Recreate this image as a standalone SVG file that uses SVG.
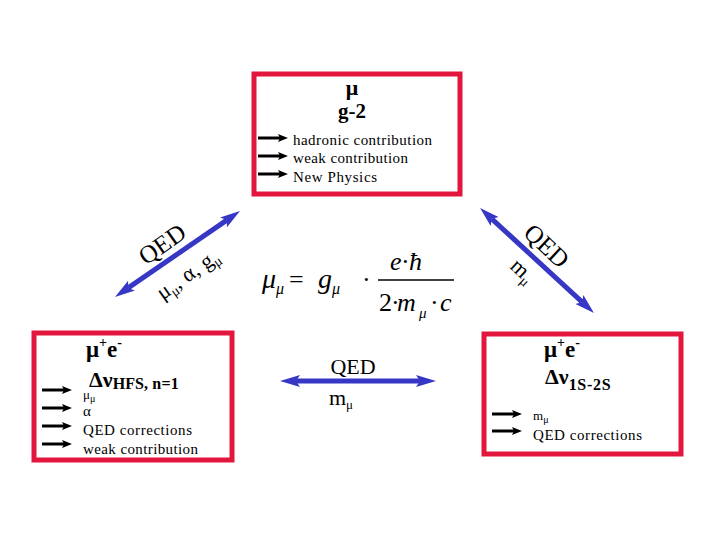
<svg xmlns="http://www.w3.org/2000/svg" width="720" height="540" viewBox="0 0 720 540">
<style>
.box{fill:#fff;stroke:#e3173e;stroke-width:5}
.t{font-family:'Liberation Serif','Times New Roman','DejaVu Serif',serif;fill:#000}
.b{font-weight:bold}
.i{font-style:italic}
.blue{stroke:#3737c6;stroke-width:5;fill:none}
.blk{stroke:#000;stroke-width:3;fill:none}
</style>
<defs>
<marker id="bh" markerUnits="userSpaceOnUse" viewBox="0 0 22 12" refX="4" refY="6" markerWidth="22" markerHeight="12" orient="auto-start-reverse">
<path d="M0,0 L20,6 L0,12 L4,6 z" fill="#3737c6"/>
</marker>
<marker id="kh" markerUnits="userSpaceOnUse" viewBox="0 0 11 8" refX="2" refY="4" markerWidth="11" markerHeight="8" orient="auto">
<path d="M0,0 L10,4 L0,8 L2,4 z" fill="#000"/>
</marker>
</defs>
<rect width="720" height="540" fill="#fff"/>

<g id="node-g2">
<rect class="box" x="254" y="74" width="206" height="120"/>
<text class="t b" x="352" y="95" font-size="22" text-anchor="middle">μ</text>
<text class="t b" x="352" y="118" font-size="21" text-anchor="middle">g-2</text>
<line class="blk" x1="258" y1="138" x2="280" y2="138" marker-end="url(#kh)"/>
<line class="blk" x1="258" y1="156" x2="280" y2="156" marker-end="url(#kh)"/>
<line class="blk" x1="258" y1="174" x2="280" y2="174" marker-end="url(#kh)"/>
<text class="t" x="293" y="145" font-size="15" textLength="139" lengthAdjust="spacing">hadronic contribution</text>
<text class="t" x="293" y="163" font-size="15" textLength="115" lengthAdjust="spacing">weak contribution</text>
<text class="t" x="293" y="182" font-size="15" textLength="84" lengthAdjust="spacing">New Physics</text>
</g>

<g id="node-hfs">
<rect class="box" x="34" y="333" width="198" height="127"/>
<text class="t b" x="86" y="357" font-size="23">μ<tspan font-size="14" dy="-10">+</tspan><tspan dy="10">e</tspan><tspan font-size="14" dy="-10">-</tspan></text>
<text class="t b" x="89" y="387" font-size="22">Δν<tspan font-size="16" dy="2" textLength="66" lengthAdjust="spacing">HFS, n=1</tspan></text>
<line class="blk" x1="42" y1="390" x2="64" y2="390" marker-end="url(#kh)"/>
<line class="blk" x1="42" y1="408" x2="64" y2="408" marker-end="url(#kh)"/>
<line class="blk" x1="42" y1="426" x2="64" y2="426" marker-end="url(#kh)"/>
<line class="blk" x1="42" y1="444" x2="64" y2="444" marker-end="url(#kh)"/>
<text class="t" x="83" y="399" font-size="13">μ<tspan font-size="10" dy="3">μ</tspan></text>
<text class="t" x="83" y="416" font-size="15">α</text>
<text class="t" x="83" y="435" font-size="15" textLength="109" lengthAdjust="spacing">QED corrections</text>
<text class="t" x="83" y="454" font-size="15" textLength="115" lengthAdjust="spacing">weak contribution</text>
</g>

<g id="node-1s2s">
<rect class="box" x="484" y="334" width="197" height="120"/>
<text class="t b" x="544" y="357" font-size="23">μ<tspan font-size="14" dy="-10">+</tspan><tspan dy="10">e</tspan><tspan font-size="14" dy="-10">-</tspan></text>
<text class="t b" x="545" y="384" font-size="22">Δν<tspan font-size="16" dy="6" textLength="42" lengthAdjust="spacing">1S-2S</tspan></text>
<line class="blk" x1="492" y1="414" x2="514" y2="414" marker-end="url(#kh)"/>
<line class="blk" x1="492" y1="431" x2="514" y2="431" marker-end="url(#kh)"/>
<text class="t" x="533" y="420" font-size="13">m<tspan font-size="10" dy="3">μ</tspan></text>
<text class="t" x="533" y="440" font-size="15" textLength="109" lengthAdjust="spacing">QED corrections</text>
</g>

<g id="formula">
<text class="t i" x="262" y="288" font-size="28">μ<tspan font-size="16" dy="6">μ</tspan></text>
<text class="t" x="289" y="288" font-size="26">=</text>
<text class="t i" x="318" y="288" font-size="28">g<tspan font-size="16" dy="6">μ</tspan></text>
<text class="t" x="362" y="288" font-size="26">·</text>
<line x1="378" y1="280" x2="454" y2="280" stroke="#000" stroke-width="1.5"/>
<text class="t i" x="390" y="270" font-size="26">e</text>
<text class="t" x="401" y="270" font-size="26">·</text>
<text class="t i" x="409" y="270" font-size="26">ħ</text>
<text class="t" x="379" y="311" font-size="26">2</text>
<text class="t" x="391" y="311" font-size="26">·</text>
<text class="t i" x="397" y="311" font-size="26">m</text>
<text class="t i" x="419" y="318" font-size="15">μ</text>
<text class="t" x="430" y="311" font-size="26">·</text>
<text class="t i" x="440" y="311" font-size="26">c</text>
</g>

<g id="connectors">
<line class="blue" x1="128.2" y1="287.9" x2="226.8" y2="220.1" marker-start="url(#bh)" marker-end="url(#bh)"/>
<line class="blue" x1="491.8" y1="218.8" x2="582.2" y2="302.2" marker-start="url(#bh)" marker-end="url(#bh)"/>
<line class="blue" x1="296" y1="381" x2="420" y2="381" marker-start="url(#bh)" marker-end="url(#bh)"/>
<text class="t" font-size="25" text-anchor="middle" transform="translate(167,251) rotate(-35)">QED</text>
<text class="t" font-size="22" text-anchor="middle" transform="translate(192,280) rotate(-35)">μ<tspan font-size="14" dy="4">μ</tspan><tspan dy="-4">, α, g</tspan><tspan font-size="14" dy="4">μ</tspan></text>
<text class="t" font-size="25" text-anchor="middle" transform="translate(541,252) rotate(43)">QED</text>
<text class="t" font-size="22" text-anchor="middle" transform="translate(518,276) rotate(43)">m<tspan font-size="14" dy="4">μ</tspan></text>
<text class="t" x="353" y="374" font-size="22" text-anchor="middle">QED</text>
<text class="t" x="341" y="405" font-size="22" text-anchor="middle">m<tspan font-size="13" dy="4">μ</tspan></text>
</g>
</svg>
